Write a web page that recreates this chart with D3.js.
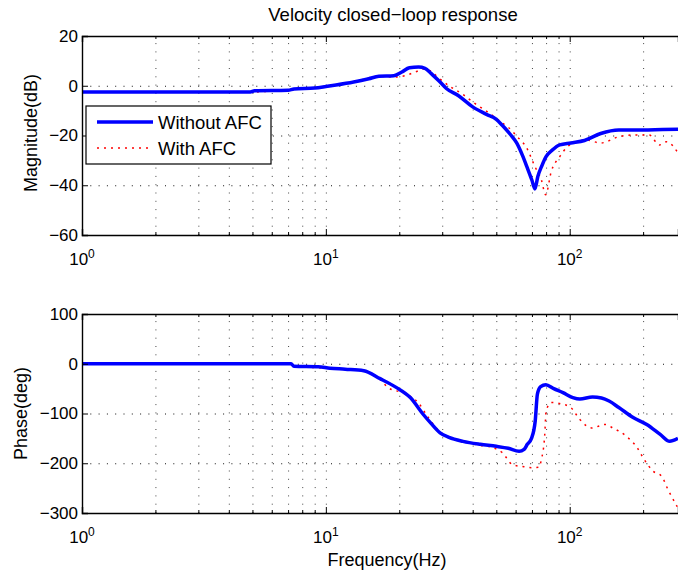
<!DOCTYPE html>
<html>
<head>
<meta charset="utf-8">
<script src="https://cdn.jsdelivr.net/npm/d3@7"></script>
<style>
  body { margin: 0; background: #fff; }
  text { font-family: "Liberation Sans", Arial, Helvetica, sans-serif; fill: #000; }
</style>
</head>
<body>
<div id="bode"></div>
<script>
// series names + axis ticks
var seriesNames = ["Without AFC", "With AFC"];
var magTicks = [20, 0, -20, -40, -60];
var phaseTicks = [100, 0, -100, -200, -300];
var decadeTicks = [1, 10, 100];

// magnitude, without AFC (Hz, dB)
var magFreqNo = [1, 4.9, 5.1, 7.0, 7.4, 9, 10, 11, 13, 15, 16.5, 19, 20.5, 22, 24, 25.5, 27, 29.4, 31.2, 35, 40, 45.6, 50, 53, 57, 60.6, 64, 67, 70, 72, 74, 77, 80, 85, 91, 101, 115, 134, 159, 200, 240, 278];
var magNo = [-2.5, -2.5, -2.0, -1.8, -1.3, -0.9, -0.3, 0.3, 1.5, 2.8, 3.8, 4.0, 5.5, 7.2, 7.5, 7.0, 5.0, 1.5, -1.1, -4, -8.5, -11.5, -13.5, -16, -19.5, -23, -28, -33, -38, -41.5, -36.5, -32, -28.5, -25.8, -23.8, -23, -22, -19.2, -17.8, -17.8, -17.6, -17.5];

// magnitude, with AFC
var magFreqAfc = [1, 5, 6.3, 7.5, 9, 10, 13, 16.5, 19, 21.4, 23.2, 25.5, 27, 28.5, 32.3, 36.5, 40, 46, 53, 55.7, 61, 66.6, 72, 76.5, 79.7, 84, 91, 98, 107, 117, 134, 159, 181, 212, 233, 250, 278];
var magAfc = [-2.5, -2.5, -2.0, -1.5, -0.8, -0.3, 1.5, 3.8, 3.5, 4.2, 5.5, 6.8, 5.8, 3.8, -0.3, -3.5, -6.5, -10.5, -15, -16.5, -20.5, -25, -32.5, -37.8, -43.8, -34.5, -28.5, -24.5, -22.5, -21.8, -23, -20.5, -19.8, -19.8, -23.8, -22.5, -27];

// phase, without AFC (Hz, deg)
var phFreqNo = [1, 7.2, 7.4, 9.3, 10.4, 12, 14.3, 16.7, 19.5, 22.2, 25, 27, 29.4, 32, 36.5, 43, 50, 56, 62, 65, 67, 69.7, 72.2, 73.7, 76, 79.8, 86, 93.8, 103, 110, 124, 135, 145, 159, 182, 207, 235, 257, 278];
var phNo = [0, 0, -5, -6, -9, -11, -14, -30, -48, -68, -101, -120, -139, -148, -156, -162, -166, -170, -176, -172, -162, -150, -115, -61, -46, -42, -50, -58, -68, -71, -67, -69, -75, -88, -108, -122, -142, -156, -150];

// phase, with AFC
var phFreqAfc = [1, 7.2, 7.4, 10.4, 14.3, 16.7, 18, 20.5, 23.9, 26.3, 29.4, 33, 43, 48, 53, 58.3, 65, 69.7, 74.8, 76.5, 79, 80, 84, 91, 101, 110, 123, 140, 150, 170, 191, 200, 220, 238, 253, 278];
var phAfc = [0, 0, -5, -9, -14, -32, -48, -58, -78, -108, -137, -150, -164, -168, -179, -203, -207, -209, -208, -193, -142, -95, -78, -80, -88, -112, -129, -122, -129, -145, -172, -189, -216, -226, -253, -290];

var width = 678, height = 574;
var left = 82, right = 678;

var svg = d3.select("#bode")
  .append("svg")
    .attr("width", width)
    .attr("height", height);

// shared log frequency axis
var x = d3.scaleLog()
  .domain([1, 278])
  .range([left, right]);

var allTicks = x.ticks();

function pts(f, v) {
  return f.map(function(d, i) { return { f: d, v: v[i] }; });
}

function panel(id, top, bottom, yDomain, yTicks, curves) {
  var y = d3.scaleLinear().domain(yDomain).range([bottom, top]);
  var h = bottom - top;
  var g = svg.append("g");

  g.append("clipPath").attr("id", "clip" + id)
    .append("rect")
      .attr("x", left).attr("y", top)
      .attr("width", right - left).attr("height", h);

  // dotted grid
  g.append("g")
    .attr("transform", "translate(0," + bottom + ")")
    .call(d3.axisBottom(x).tickValues(allTicks.filter(function(d) { return d > 1; }))
      .tickSize(-h).tickFormat(""))
    .call(function(s) { s.select(".domain").remove(); })
    .selectAll("line")
      .attr("stroke", "#444")
      .attr("stroke-width", 1)
      .attr("stroke-dasharray", "1,7.3");

  g.append("g")
    .attr("transform", "translate(" + left + ",0)")
    .call(d3.axisLeft(y).tickValues(yTicks.slice(1, -1))
      .tickSize(-(right - left)).tickFormat(""))
    .call(function(s) { s.select(".domain").remove(); })
    .selectAll("line")
      .attr("stroke", "#111")
      .attr("stroke-width", 1)
      .attr("stroke-dasharray", "1,7.3");

  // curves
  var line = d3.line()
    .curve(d3.curveMonotoneX)
    .x(function(d) { return x(d.f); })
    .y(function(d) { return y(d.v); });

  g.append("path")
    .datum(curves[1])
    .attr("clip-path", "url(#clip" + id + ")")
    .attr("fill", "none")
    .attr("stroke", "#ff0000")
    .attr("stroke-width", 1.5)
    .attr("stroke-dasharray", "2,5")
    .attr("d", line);

  g.append("path")
    .datum(curves[0])
    .attr("clip-path", "url(#clip" + id + ")")
    .attr("fill", "none")
    .attr("stroke", "#0000ff")
    .attr("stroke-width", 3.5)
    .attr("stroke-linejoin", "round")
    .attr("d", line);

  // inward ticks, major and minor, bottom and top
  var minor = allTicks.filter(function(d) { return decadeTicks.indexOf(d) < 0; });
  [[bottom, d3.axisBottom], [top, d3.axisTop]].forEach(function(a) {
    g.append("g")
      .attr("transform", "translate(0," + a[0] + ")")
      .call(a[1](x).tickValues(minor).tickSize(-3).tickFormat(""))
      .call(function(s) { s.select(".domain").remove(); })
      .selectAll("line").attr("stroke", "#000");
    g.append("g")
      .attr("transform", "translate(0," + a[0] + ")")
      .call(a[1](x).tickValues(decadeTicks).tickSize(-6).tickFormat(""))
      .call(function(s) { s.select(".domain").attr("stroke-width", 1.4); })
      .selectAll("line").attr("stroke", "#000");
  });

  var yAxis = g.append("g")
    .attr("transform", "translate(" + left + ",0)")
    .call(d3.axisLeft(y).tickValues(yTicks).tickSize(-6).tickPadding(5)
      .tickFormat(function(d) { return d < 0 ? "\u2212" + (-d) : d; }));
  yAxis.select(".domain").attr("stroke-width", 1.4);
  yAxis.selectAll("text")
    .style("font-size", "17px")
    .attr("x", -4);

  // 10^n labels
  g.selectAll(".xlab")
    .data(decadeTicks)
    .enter()
    .append("text")
      .attr("x", function(d) { return x(d); })
      .attr("y", bottom + 30)
      .attr("text-anchor", "middle")
      .style("font-size", "17px")
      .each(function(d) {
        var t = d3.select(this);
        t.append("tspan").text("10");
        t.append("tspan").attr("dy", -7).style("font-size", "12px").text(Math.round(Math.log10(d)));
      });

  return y;
}

panel("m", 36, 235, [-60, 20], magTicks,
  [pts(magFreqNo, magNo), pts(magFreqAfc, magAfc)]);
panel("p", 314, 513, [-300, 100], phaseTicks,
  [pts(phFreqNo, phNo), pts(phFreqAfc, phAfc)]);

// title and axis labels
svg.append("text")
  .attr("x", 393).attr("y", 21)
  .attr("text-anchor", "middle")
  .style("font-size", "18.5px")
  .text("Velocity closed\u2212loop response");

svg.append("text")
  .attr("transform", "translate(37,133)rotate(-90)")
  .attr("text-anchor", "middle")
  .style("font-size", "18px")
  .text("Magnitude(dB)");

svg.append("text")
  .attr("transform", "translate(27,413.5)rotate(-90)")
  .attr("text-anchor", "middle")
  .style("font-size", "18px")
  .text("Phase(deg)");

svg.append("text")
  .attr("x", 387).attr("y", 566)
  .attr("text-anchor", "middle")
  .style("font-size", "18px")
  .text("Frequency(Hz)");

// legend
var legend = svg.append("g");
legend.append("rect")
  .attr("x", 86).attr("y", 106)
  .attr("width", 185).attr("height", 58)
  .attr("fill", "#fff")
  .attr("stroke", "#000")
  .attr("stroke-width", 1.2);

legend.selectAll("line")
  .data(seriesNames)
  .enter()
  .append("line")
    .attr("x1", 97).attr("x2", 153)
    .attr("y1", function(d, i) { return 122 + i * 26; })
    .attr("y2", function(d, i) { return 122 + i * 26; })
    .attr("stroke", function(d, i) { return i ? "#ff0000" : "#0000ff"; })
    .attr("stroke-width", function(d, i) { return i ? 1.5 : 3.5; })
    .attr("stroke-dasharray", function(d, i) { return i ? "2,5" : null; });

legend.selectAll("text")
  .data(seriesNames)
  .enter()
  .append("text")
    .attr("x", 158)
    .attr("y", function(d, i) { return 129 + i * 26; })
    .style("font-size", "18.5px")
    .text(function(d) { return d; });
</script>
</body>
</html>
